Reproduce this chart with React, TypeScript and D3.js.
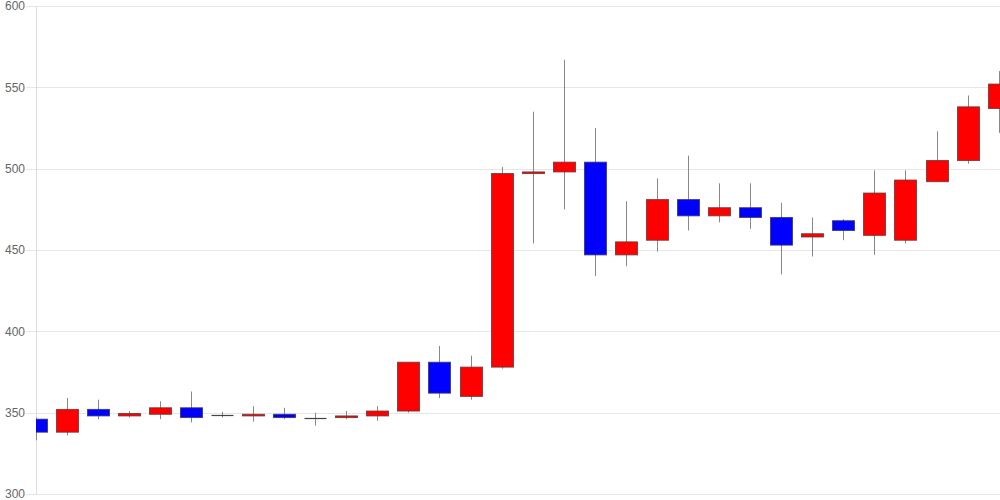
import React from "react";
import * as d3 from "d3";

const opens = [346, 338, 352, 348, 349, 353, 348.5, 348, 349, 347, 347, 348, 351, 381, 360, 378, 497, 498, 504, 447, 456, 481, 471, 476, 470, 458, 468, 459, 456, 492, 505, 537];
const closes = [338, 352, 348, 349.5, 353, 347, 348.5, 349, 347, 347, 348, 351, 381, 362, 378, 497, 498, 504, 447, 455, 481, 471, 476, 470, 453, 460, 462, 485, 493, 505, 538, 552];
const highs = [347, 359, 358, 351, 357, 363, 350.5, 354, 353, 350, 351, 354, 381, 391, 385, 501, 535, 567, 525, 480, 494, 508, 491, 491, 479, 470, 469, 499, 499, 523, 545, 560];
const lows = [333, 336, 346, 347, 346, 344, 347, 344.5, 346, 342, 346, 345, 350, 359, 358, 377, 454, 475, 434, 440, 449, 462, 467, 463, 435, 446, 456, 447, 454, 492, 503, 522];
const yTicks = [300, 350, 400, 450, 500, 550, 600];

const W = 1000;
const H = 500;
const left = 36;
const right = 1000;
const top = 6;
const bottom = 494;

export default function App() {
  const x = d3.scaleLinear().domain([0, 31]).range([36.1, 999.2]);
  const y = d3.scaleLinear().domain([300, 600]).range([bottom, top]);
  const bw = 22;
  return (
    <svg width={W} height={H} style={{ position: "absolute", left: 0, top: 0, display: "block" }}>
      <defs>
        <clipPath id="plot">
          <rect x={left} y={0} width={right - left} height={H} />
        </clipPath>
      </defs>
      {yTicks.map((t) => (
        <g key={t}>
          <line x1={26} x2={right} y1={Math.round(y(t)) + 0.5} y2={Math.round(y(t)) + 0.5} stroke="#e6e6e6" strokeWidth={1} />
          <text x={25} y={y(t)} dy="0.35em" textAnchor="end" fontFamily="'Liberation Sans', Arial, sans-serif" fontSize={12} fill="#666">
            {t}
          </text>
        </g>
      ))}
      <line x1={left + 0.5} x2={left + 0.5} y1={top} y2={bottom} stroke="#ddd" strokeWidth={1} />
      <g clipPath="url(#plot)">
        {opens.map((o, i) => {
          const c = closes[i];
          const cx = Math.floor(x(i)) + 0.5;
          const yt = y(Math.max(o, c));
          const yb = y(Math.min(o, c));
          const up = c > o;
          const doji = c === o;
          return (
            <g key={i}>
              <line x1={cx} x2={cx} y1={y(highs[i])} y2={y(lows[i])} stroke="#888" strokeWidth={1} />
              {doji ? (
                <line x1={cx - bw / 2} x2={cx + bw / 2} y1={Math.round(yt) + 0.5} y2={Math.round(yt) + 0.5} stroke="#444" strokeWidth={1.2} />
              ) : (
                <rect
                  x={cx - bw / 2}
                  y={yt}
                  width={bw}
                  height={Math.max(0, yb - yt)}
                  fill={up ? "#ff0000" : "#0000ff"}
                  stroke={up ? "#663333" : "#333366"}
                  strokeOpacity={0.8}
                  strokeWidth={1}
                />
              )}
            </g>
          );
        })}
      </g>
    </svg>
  );
}
